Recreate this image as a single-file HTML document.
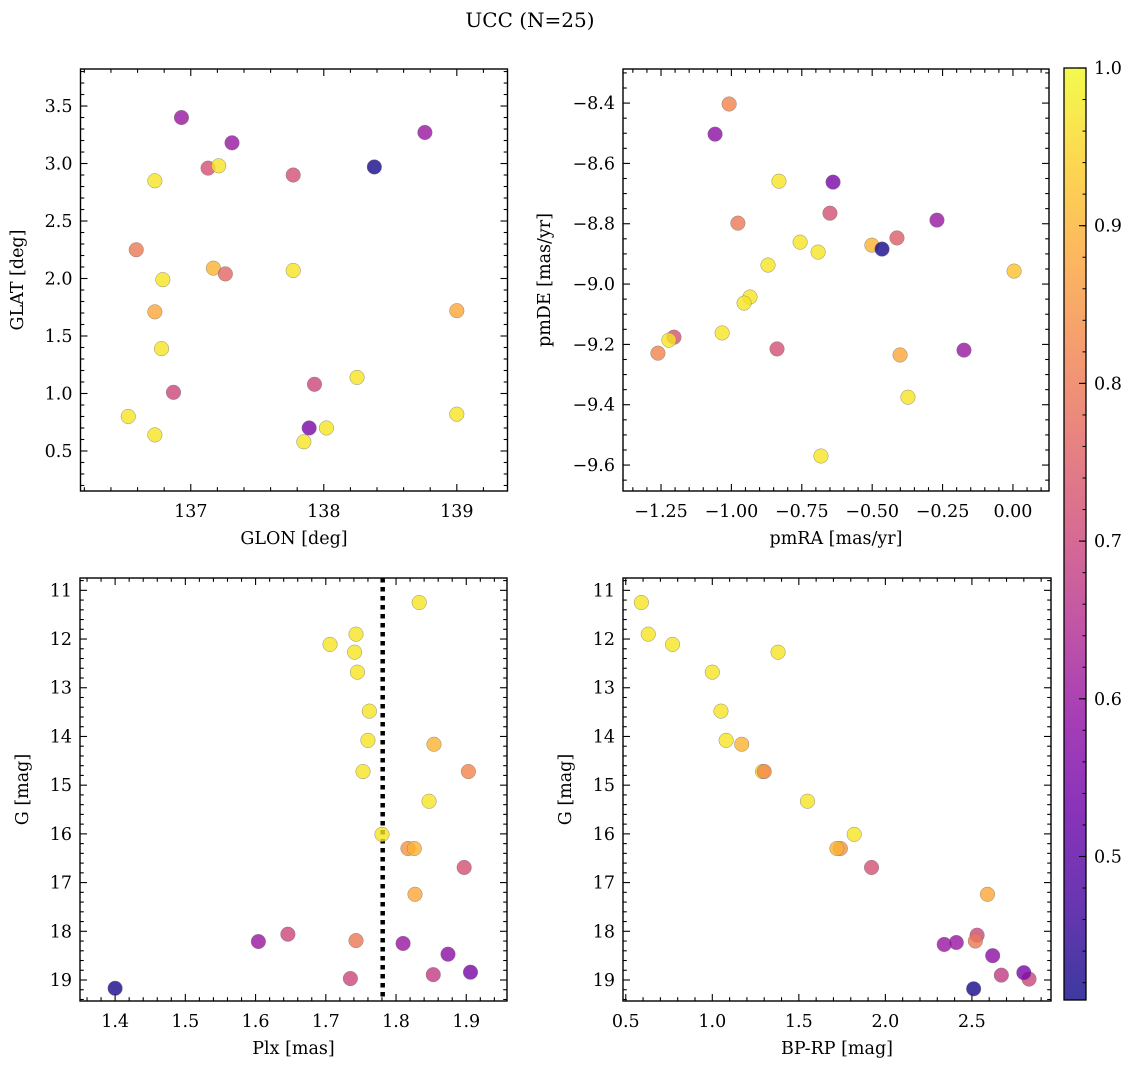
<!DOCTYPE html>
<html><head><meta charset="utf-8"><style>
body{margin:0;background:#fff}
svg{display:block;font-family:"DejaVu Serif","Liberation Serif",serif}
</style></head><body>
<svg id="chart" width="1136" height="1068" viewBox="0 0 1136 1068" xmlns="http://www.w3.org/2000/svg">
<text x="530" y="27" font-size="20" text-anchor="middle">UCC (N=25)</text>
</svg>
<script>
// Panel 1: GLON vs GLAT
const glon=[136.93,137.31,138.76,138.38,137.13,137.21,137.77,136.73,136.59,136.79,137.17,137.26,137.77,136.73,139.0,136.78,136.87,137.93,138.25,136.53,139.0,136.73,137.85,137.89,138.02];
const glat=[3.40,3.18,3.27,2.97,2.96,2.98,2.90,2.85,2.25,1.99,2.09,2.04,2.07,1.71,1.72,1.39,1.01,1.08,1.14,0.80,0.82,0.64,0.58,0.70,0.70];
const prob1=[0.6,0.6,0.6,0.42,0.72,0.97,0.72,0.97,0.8,0.97,0.9,0.77,0.97,0.88,0.88,0.97,0.7,0.7,0.97,0.97,0.97,0.97,0.97,0.55,0.97];
// Panel 2: pmRA vs pmDE
const pmra=[-1.008,-1.058,-0.639,-0.831,-0.650,-0.977,-0.270,-0.756,-0.692,-0.501,-0.465,-0.412,-0.870,0.004,-0.934,-0.955,-1.033,-1.204,-1.222,-1.261,-0.838,-0.401,-0.174,-0.373,-0.682];
const pmde=[-8.403,-8.503,-8.662,-8.659,-8.765,-8.798,-8.788,-8.861,-8.894,-8.871,-8.884,-8.847,-8.937,-8.957,-9.043,-9.063,-9.162,-9.176,-9.186,-9.229,-9.215,-9.235,-9.219,-9.375,-9.570];
const prob2=[0.82,0.58,0.55,0.97,0.72,0.8,0.6,0.97,0.97,0.9,0.42,0.75,0.97,0.92,0.97,0.97,0.97,0.72,0.97,0.82,0.72,0.88,0.6,0.97,0.97];
// Panel 3: Plx vs G
const plx=[1.833,1.743,1.706,1.741,1.745,1.762,1.760,1.854,1.753,1.903,1.847,1.780,1.817,1.826,1.897,1.827,1.604,1.646,1.743,1.810,1.874,1.735,1.853,1.906,1.40];
const gmag3=[11.25,11.90,12.11,12.27,12.68,13.48,14.08,14.16,14.72,14.72,15.33,16.01,16.30,16.30,16.69,17.24,18.21,18.06,18.19,18.25,18.47,18.97,18.89,18.84,19.17];
const prob3=[0.97,0.97,0.97,0.97,0.97,0.97,0.97,0.9,0.97,0.82,0.97,0.97,0.85,0.9,0.72,0.88,0.6,0.7,0.8,0.6,0.58,0.7,0.68,0.55,0.42];
const plxMean=[1.781];
// Panel 4: BP-RP vs G
const bprp=[0.59,0.63,0.77,1.38,1.0,1.05,1.08,1.17,1.29,1.30,1.55,1.82,1.74,1.72,1.92,2.59,2.34,2.53,2.52,2.41,2.62,2.83,2.67,2.80,2.51];
const gmag4=[11.25,11.90,12.11,12.27,12.68,13.48,14.08,14.16,14.72,14.72,15.33,16.01,16.30,16.30,16.69,17.24,18.27,18.08,18.2,18.23,18.5,18.98,18.9,18.85,19.18];
const prob4=[0.97,0.97,0.97,0.97,0.97,0.97,0.97,0.9,0.97,0.82,0.97,0.97,0.85,0.9,0.72,0.88,0.6,0.7,0.8,0.6,0.58,0.7,0.68,0.55,0.42];
const cbTicks=[0.5,0.6,0.7,0.8,0.9,1.0];

const NS="http://www.w3.org/2000/svg";
const svg=document.getElementById('chart');
function mk(tag,at,parent){const e=document.createElementNS(NS,tag);for(const k in at)e.setAttribute(k,at[k]);(parent||svg).appendChild(e);return e;}
const stops=[[13,8,135],[65,4,157],[106,0,168],[143,13,164],[177,42,144],[204,71,120],[225,100,98],[242,132,75],[252,166,54],[252,206,37],[240,249,33]];
const VMIN=0.409,VMAX=1.0;
function plasma(v){let t=(v-VMIN)/(VMAX-VMIN);t=Math.max(0,Math.min(1,t))*10;const i=Math.min(9,Math.floor(t)),f=t-i;const a=stops[i],b=stops[i+1];return 'rgb('+a.map((c,j)=>Math.round(c+(b[j]-c)*f)).join(',')+')';}

function fmt(v,d){let s=v.toFixed(d);if(s.startsWith('-'))s='\u2212'+s.slice(1);if(s==='\u22120.00')s='0.00';return s;}
const TF=17.5;
function panel(o){
  const g=mk('g',{});
  
  
  const X=v=>o.x0+(v-o.xmin)/(o.xmax-o.xmin)*(o.x1-o.x0);
  const Y=o.yinv?(v=>o.y0+(v-o.ymin)/(o.ymax-o.ymin)*(o.y1-o.y0)):(v=>o.y1-(v-o.ymin)/(o.ymax-o.ymin)*(o.y1-o.y0));
  const tg=mk('g',{stroke:'#000','stroke-width':1.1},g);
  function ticks(min,max,step,div,isX,labels,dec){
    const ms=step/div;
    for(let k=Math.ceil(min/ms-1e-6);k*ms<=max+1e-9;k++){
      const v=k*ms;const major=Math.abs(v/step-Math.round(v/step))<1e-6;const L=major?7:3.8;
      if(isX){const p=X(v);mk('line',{x1:p,x2:p,y1:o.y1,y2:o.y1-L},tg);mk('line',{x1:p,x2:p,y1:o.y0,y2:o.y0+L},tg);
        if(major&&labels){const t=mk('text',{x:p,y:o.y1+26,'font-size':TF,'text-anchor':'middle',stroke:'none'},g);t.textContent=fmt(v,dec);}}
      else{const p=Y(v);mk('line',{y1:p,y2:p,x1:o.x0,x2:o.x0+L},tg);mk('line',{y1:p,y2:p,x1:o.x1,x2:o.x1-L},tg);
        if(major&&labels){const t=mk('text',{x:o.x0-8,y:p+6,'font-size':TF,'text-anchor':'end',stroke:'none'},g);t.textContent=fmt(v,dec);}}
    }
  }
  ticks(o.xmin,o.xmax,o.xstep,o.xdiv,true,true,o.xdec);
  ticks(Math.min(o.ymin,o.ymax),Math.max(o.ymin,o.ymax),o.ystep,o.ydiv,false,true,o.ydec);
  if(o.vline!==undefined){const l=mk('line',{x1:X(o.vline),x2:X(o.vline),y1:o.y0,y2:o.y1,stroke:'#000','stroke-width':4.5,'stroke-dasharray':'4.5,4.5'},g);}
  for(let i=0;i<o.xs.length;i++){
    const c=mk('circle',{cx:X(o.xs[i]),cy:Y(o.ys[i]),r:7.3,fill:plasma(o.ps[i]),'fill-opacity':0.8,stroke:'#777','stroke-width':0.5,'stroke-opacity':0.8},g);
    
    
  }
  const fr=mk('rect',{x:o.x0,y:o.y0,width:o.x1-o.x0,height:o.y1-o.y0,fill:'none',stroke:'#000','stroke-width':1.4},g);
  
  const xl=mk('text',{x:(o.x0+o.x1)/2,y:o.y1+53,'font-size':TF,'text-anchor':'middle'},g);xl.textContent=o.xlabel;
  
  const yx=o.ylx,yy=(o.y0+o.y1)/2;
  const yl=mk('text',{x:yx,y:yy,'font-size':TF,'text-anchor':'middle',transform:'rotate(-90 '+yx+' '+yy+')'},g);yl.textContent=o.ylabel;
  
}
panel({name:'glon-glat-panel',x0:80.5,x1:507.5,y0:69,y1:491,xmin:136.171,xmax:139.381,ymin:0.152,ymax:3.822,xstep:1,xdiv:5,ystep:0.5,ydiv:5,xdec:0,ydec:1,xs:glon,ys:glat,ps:prob1,xlabel:'GLON [deg]',ylabel:'GLAT [deg]',ylx:23});
panel({name:'pm-panel',x0:623,x1:1049,y0:69,y1:491,xmin:-1.385,xmax:0.128,ymin:-9.686,ymax:-8.287,xstep:0.25,xdiv:5,ystep:0.2,ydiv:4,xdec:2,ydec:1,xs:pmra,ys:pmde,ps:prob2,xlabel:'pmRA [mas/yr]',ylabel:'pmDE [mas/yr]',ylx:550});
panel({name:'plx-g-panel',x0:80,x1:507,y0:578,y1:1001,xmin:1.350,xmax:1.958,ymin:10.747,ymax:19.431,yinv:true,xstep:0.1,xdiv:5,ystep:1,ydiv:5,xdec:1,ydec:0,xs:plx,ys:gmag3,ps:prob3,xlabel:'Plx [mas]',ylabel:'G [mag]',ylx:28,vline:plxMean[0]});
panel({name:'cmd-panel',x0:623,x1:1051,y0:578,y1:1001,xmin:0.484,xmax:2.957,ymin:10.747,ymax:19.431,yinv:true,xstep:0.5,xdiv:5,ystep:1,ydiv:5,xdec:1,ydec:0,xs:bprp,ys:gmag4,ps:prob4,xlabel:'BP-RP [mag]',ylabel:'G [mag]',ylx:571});

const cb=mk('g',{});


const defs=mk('defs',{},cb);
const lg=mk('linearGradient',{id:'cbg',x1:0,y1:1,x2:0,y2:0},defs);
for(let i=0;i<=20;i++){const v=VMIN+(VMAX-VMIN)*i/20;mk('stop',{offset:i/20,'stop-color':plasma(v),'stop-opacity':0.8},lg);}
const CB={x0:1064,x1:1086,y0:68,y1:1000};
mk('rect',{x:CB.x0,y:CB.y0,width:CB.x1-CB.x0,height:CB.y1-CB.y0,fill:'url(#cbg)'},cb);
const CY=v=>CB.y1-(v-VMIN)/(VMAX-VMIN)*(CB.y1-CB.y0);
for(let v=0.42;v<=1.0001;v+=0.02){const p=CY(v);mk('line',{x1:CB.x1,x2:CB.x1-3.5,y1:p,y2:p,stroke:'#000','stroke-width':1},cb);}
for(const v of cbTicks){const p=CY(v);mk('line',{x1:CB.x1,x2:CB.x1-7,y1:p,y2:p,stroke:'#000','stroke-width':1.1},cb);
  const t=mk('text',{x:CB.x1+8,y:p+6,'font-size':TF},cb);t.textContent=v.toFixed(1);
  }
mk('rect',{x:CB.x0,y:CB.y0,width:CB.x1-CB.x0,height:CB.y1-CB.y0,fill:'none',stroke:'#000','stroke-width':1.3},cb);
</script>
</body></html>
